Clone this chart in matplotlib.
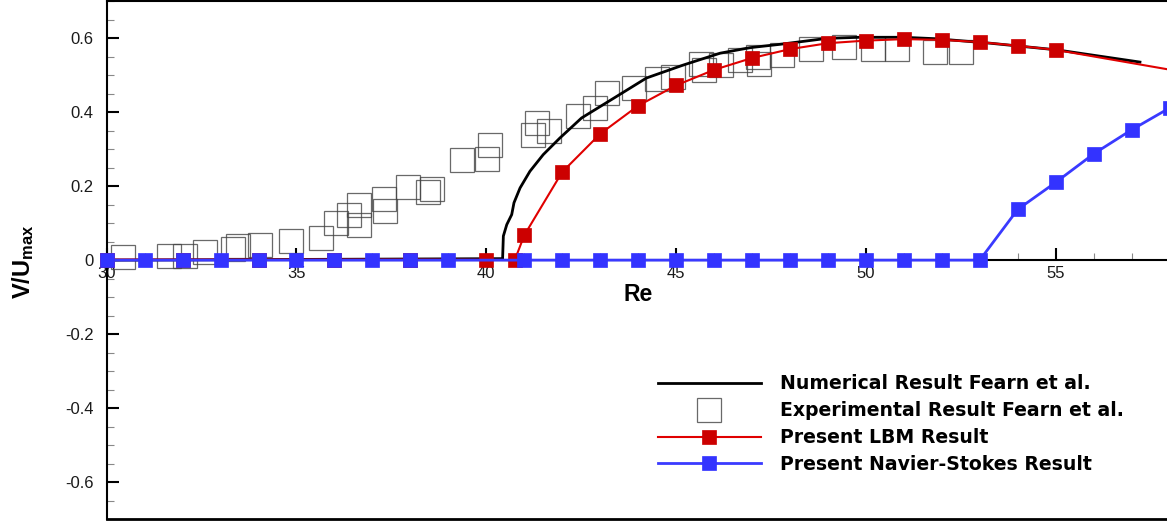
import matplotlib
matplotlib.use('Agg')
import matplotlib.pyplot as plt
from matplotlib.ticker import MultipleLocator, FuncFormatter

plt.rcParams['font.family'] = 'Liberation Sans'
plt.rcParams['mathtext.fontset'] = 'custom'
plt.rcParams['mathtext.rm'] = 'Liberation Sans'
plt.rcParams['mathtext.bf'] = 'Liberation Sans:bold'

# Experimental data (open squares)
exp_re = [30.43, 31.63, 32.07, 32.58, 33.32, 33.45, 34.04, 34.86, 35.65, 36.03,
          36.38, 36.65, 36.65, 37.31, 37.33, 37.94, 38.46, 38.58, 39.37, 40.01,
          40.09, 41.22, 41.34, 41.65, 42.42, 42.86, 43.19, 43.89, 44.50, 44.93,
          45.66, 45.74, 46.18, 46.68, 47.17, 47.18, 47.78, 48.55, 49.43, 50.20,
          50.81, 51.83, 52.51]
exp_v = [0.009, 0.010, 0.010, 0.022, 0.031, 0.039, 0.040, 0.052, 0.060, 0.099,
         0.121, 0.149, 0.094, 0.164, 0.134, 0.197, 0.184, 0.191, 0.270, 0.274,
         0.312, 0.339, 0.370, 0.350, 0.388, 0.411, 0.451, 0.466, 0.489, 0.494,
         0.530, 0.514, 0.528, 0.541, 0.548, 0.530, 0.554, 0.571, 0.575, 0.571,
         0.571, 0.563, 0.563]

# Numerical curve of Fearn et al.
num_re = [30.0, 40.43, 40.45, 40.54, 40.67, 40.73, 40.89, 41.15, 41.50, 41.94,
          42.51, 43.43, 44.22, 45.19, 46.16, 46.95, 47.74, 48.97, 49.84, 50.98,
          51.86, 53.27, 55.03, 57.22]
num_v = [0.0, 0.004, 0.065, 0.096, 0.123, 0.155, 0.195, 0.240, 0.285, 0.330,
         0.384, 0.442, 0.492, 0.527, 0.559, 0.574, 0.583, 0.599, 0.602, 0.602,
         0.598, 0.586, 0.568, 0.535]

# LBM results
lbm_re = [30, 32, 34, 36, 38, 40, 40.75, 41, 42, 43, 44, 45, 46, 47, 48, 49,
          50, 51, 52, 53, 54, 55, 60]
lbm_v = [0.0015, 0.0015, 0.0015, 0.0015, 0.0015, 0.001, 0.0, 0.067, 0.238, 0.341,
         0.417, 0.472, 0.514, 0.546, 0.570, 0.586, 0.593, 0.597, 0.595, 0.589,
         0.579, 0.568, 0.479]

# Navier-Stokes results
ns_re = [30, 31, 32, 33, 34, 35, 36, 37, 38, 39,
         41, 42, 43, 44, 45, 46, 47, 48, 49, 50, 51, 52, 53,
         54, 55, 56, 57, 58]
ns_v = [0, 0, 0, 0, 0, 0, 0, 0, 0, 0,
        0, 0, 0, 0, 0, 0, 0, 0, 0, 0, 0, 0, 0,
        0.137, 0.210, 0.287, 0.352, 0.411]

labels = ['Numerical Result Fearn et al.', 'Experimental Result Fearn et al.',
          'Present LBM Result', 'Present Navier-Stokes Result']

fig = plt.figure(figsize=(11.67, 5.23), dpi=100)
ax = fig.add_axes([0.0914, 0.0071, 0.9108, 0.991])

h_exp, = ax.plot(exp_re, exp_v, ls='none', marker='s', ms=16.8, mfc='none',
                 mec='#444444', mew=0.9, alpha=0.8, zorder=2)
h_num, = ax.plot(num_re, num_v, color='black', lw=2.0, zorder=3)
h_lbm, = ax.plot(lbm_re, lbm_v, color='#e00000', lw=1.5, marker='s', ms=9.6,
                 mfc='#cc0000', mec='#cc0000', mew=0.5, zorder=4, clip_on=False)
h_ns, = ax.plot(ns_re, ns_v, color='#3a3aff', lw=2.0, marker='s', ms=9.6,
                mfc='#3333ff', mec='#3333ff', mew=0.5, zorder=5, clip_on=False)

ax.set_xlim(30, 58)
ax.set_ylim(-0.7, 0.7)

# x axis runs through V=0, box frame around the plot
ax.spines['bottom'].set_position(('data', 0))
for side in ['bottom', 'left', 'top']:
    ax.spines[side].set_linewidth(1.5)
ax.axhline(ax.get_ylim()[0], color='black', lw=2.0, clip_on=False, zorder=6)

ax.xaxis.set_major_locator(MultipleLocator(5))
ax.xaxis.set_minor_locator(MultipleLocator(1))
ax.yaxis.set_major_locator(MultipleLocator(0.2))
ax.yaxis.set_minor_locator(MultipleLocator(0.05))
ax.xaxis.set_major_formatter(FuncFormatter(lambda v, _: f'{int(round(v))}'))
ax.yaxis.set_major_formatter(
    FuncFormatter(lambda v, _: '0' if abs(v) < 1e-9 else f'{v:.1f}'))

ax.tick_params(which='major', direction='in', length=8.5, width=1.5,
               labelsize=12, labelcolor='#1a1a1a', top=False, right=False)
ax.tick_params(which='minor', direction='in', length=5, width=0.8,
               color='#888888', top=False, right=False)
ax.tick_params(axis='x', which='major', pad=4)
ax.tick_params(axis='y', which='major', pad=9.5)

ax.set_xlabel('Re', fontsize=16.5, fontweight='bold', labelpad=2)
fig.text(23.5 / 1167, 1 - 261.5 / 523, r'$\mathbf{V/U_{max}}$', rotation=90,
         ha='center', va='center', fontsize=17)

ax.legend([h_num, h_exp, h_lbm, h_ns], labels, loc='upper left',
          bbox_to_anchor=(0.5187, 0.2794), frameon=False, borderpad=0,
          borderaxespad=0, handlelength=5.45, handletextpad=1.0,
          labelspacing=0.415, numpoints=1,
          prop={'family': 'DejaVu Sans', 'weight': 'bold', 'size': 13.6})

fig.savefig('out.png', dpi=100)
